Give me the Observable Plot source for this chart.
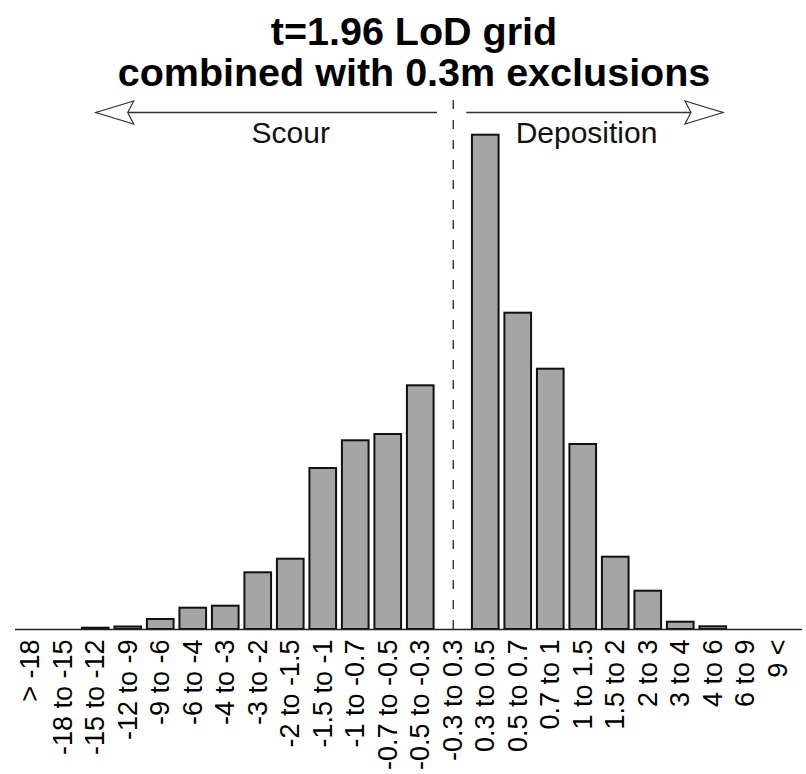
<!DOCTYPE html>
<html><head><meta charset="utf-8">
<script src="https://cdn.jsdelivr.net/npm/d3@7"></script>
<script src="https://cdn.jsdelivr.net/npm/@observablehq/plot@0.6"></script>
<style>
body{margin:0;background:#fff;font-family:"Liberation Sans",Arial,sans-serif;}
#title{height:90px;box-sizing:border-box;padding-top:10.5px;padding-left:22px;width:806px;text-align:center;font-weight:bold;font-size:39.5px;line-height:41px;color:#000;white-space:nowrap;}
#chart svg{display:block;}
</style></head><body>
<div id="title"><div>t=1.96 LoD grid</div><div>combined with 0.3m exclusions</div></div>
<div id="chart"></div>
<script>
// Elevation-change classes (m)
const categories = ["> -18","-18 to -15","-15 to -12","-12 to -9","-9 to -6","-6 to -4","-4 to -3","-3 to -2","-2 to -1.5","-1.5 to -1","-1 to -0.7","-0.7 to -0.5","-0.5 to -0.3","-0.3 to 0.3","0.3 to 0.5","0.5 to 0.7","0.7 to 1","1 to 1.5","1.5 to 2","2 to 3","3 to 4","4 to 6","6 to 9","9 <"];
// Relative bar heights (no axis shown in the original)
const values = [0,0,1.3,2.5,10,21.3,23.3,56.7,70.3,161,188.7,195,243.7,0,494.3,316.3,260.3,185,72.3,38.3,7.3,2.7,0,0];
// Direction annotations
const directionLabels = ["Scour","Deposition"];
const labelPos = [8.0, 17.1];
const arrowFrom = [12.5, 13.4];
const arrowTip = [2.0, 21.3];
const arrowRotate = [0, 180];
const annotationLevel = 517;
const labelLevel = 487;
const dividerIndex = 13;
const dividerTop = 529;

const data = categories.map((c, i) => ({i, category: c, value: values[i]}));
const arrows = directionLabels.map((t, k) => ({text: t, x: labelPos[k], from: arrowFrom[k], tip: arrowTip[k], rot: arrowRotate[k]}));

const arrowHead = {
  draw(ctx) {
    ctx.moveTo(0, 0);
    ctx.lineTo(38, -11.5);
    ctx.lineTo(32, 0);
    ctx.lineTo(38, 11.5);
    ctx.closePath();
  }
};

const chart = Plot.plot({
  width: 806,
  height: 684,
  marginTop: 0,
  marginBottom: 145,
  marginLeft: 15,
  marginRight: 4,
  style: {fontFamily: "'Liberation Sans', Arial, sans-serif", background: "white", color: "black"},
  x: {domain: [-0.5, 23.5], range: [14, 794]},
  y: {domain: [0, 539], range: [539, 0], axis: null},
  marks: [
    Plot.rectY(data.filter(d => d.value > 0), {x1: d => d.i - 0.41, x2: d => d.i + 0.41, y1: 0, y2: "value", fill: "#a5a5a5", stroke: "#111", strokeWidth: 2}),
    Plot.ruleY([0], {stroke: "#222", strokeWidth: 1.6}),
    Plot.ruleX([dividerIndex], {y1: 0, y2: dividerTop, stroke: "#222", strokeWidth: 1.3, strokeDasharray: "9,11"}),
    Plot.link(arrows, {x1: "tip", x2: "from", y1: () => annotationLevel, y2: () => annotationLevel, stroke: "#333", strokeWidth: 1.4}),
    Plot.dot(arrows, {x: "tip", y: () => annotationLevel, symbol: arrowHead, rotate: "rot", fill: "white", stroke: "#333", strokeWidth: 1.2}),
    Plot.text(arrows, {x: "x", y: () => labelLevel, text: "text", fontSize: 30, lineAnchor: "bottom", fill: "#111"}),
    Plot.axisX({ticks: d3.range(categories.length), tickFormat: i => categories[i], tickRotate: -90, tickSize: 0, tickPadding: 10, fontSize: 27, label: null})
  ]
});
document.getElementById("chart").appendChild(chart);
</script>
</body></html>
